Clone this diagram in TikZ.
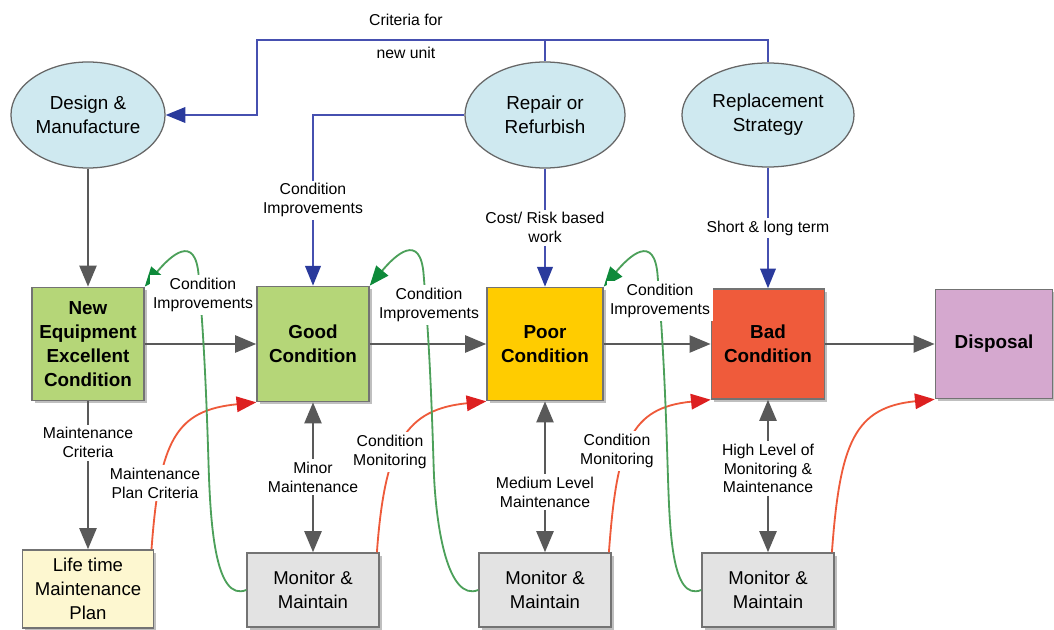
\documentclass[tikz,border=0pt]{standalone}
\usepackage{fontspec}
\setmainfont{Liberation Sans}
\usetikzlibrary{arrows.meta,shapes.geometric,shadows,calc}
\definecolor{stratfill}{HTML}{CFE9F0}
\definecolor{goodfill}{HTML}{B5D678}
\definecolor{poorfill}{HTML}{FFCC00}
\definecolor{badfill}{HTML}{EF5B3B}
\definecolor{dispfill}{HTML}{D5A8CF}
\definecolor{lifefill}{HTML}{FDF7D0}
\definecolor{monfill}{HTML}{E3E3E3}
\definecolor{linkblue}{HTML}{4650B0}
\definecolor{headblue}{HTML}{2A3A9C}
\definecolor{flowgray}{HTML}{595959}
\definecolor{monred}{HTML}{EE5A3A}
\definecolor{headred}{HTML}{DD2020}
\definecolor{impgreen}{HTML}{4CA05A}
\definecolor{headgreen}{HTML}{0E8A3A}
\begin{document}
\begin{tikzpicture}[x=0.025cm,y=-0.025cm,
  strat/.style={ellipse,draw=black!60,line width=0.9pt,fill=stratfill,align=center,
    minimum width=3.85cm,minimum height=2.65cm,inner sep=0pt,font=\fontsize{13.4}{17}\selectfont},
  cond/.style={rectangle,draw=black!55,line width=1pt,align=center,inner sep=1pt,
    minimum width=2.8cm,minimum height=2.8cm,font=\fontsize{13.4}{17}\selectfont\bfseries,
    drop shadow={shadow xshift=2pt,shadow yshift=-2pt,opacity=.5}},
  mbox/.style={cond,fill=monfill,minimum width=3.3cm,minimum height=1.85cm,font=\fontsize{13.2}{17}\selectfont},
  lbl/.style={fill=white,align=center,inner sep=2pt,font=\fontsize{11.2}{13.5}\selectfont},
  flow/.style={draw=flowgray,line width=2pt,-{Triangle[length=15pt,width=12pt]}},
  both/.style={flow,{Triangle[length=15pt,width=12pt]}-{Triangle[length=15pt,width=12pt]}},
  stratlink/.style={draw=linkblue,line width=1.5pt,-{Triangle[length=14pt,width=11pt,color=headblue]}},
  monlink/.style={draw=monred,line width=1.3pt,-{Triangle[length=14pt,width=11pt,color=headred]}},
  implink/.style={draw=impgreen,line width=1.3pt,-{Triangle[length=14pt,width=11pt,color=headgreen]}}]
\useasboundingbox (0,0) rectangle (1054,630);
% strategy ellipses
\node[strat] (design) at (88,115) {Design \&\\Manufacture};
\node[strat,minimum width=4cm] (repair) at (545,115) {Repair or\\Refurbish};
\node[strat,minimum width=4.3cm,minimum height=2.6cm] (replace) at (768,115) {Replacement\\Strategy};
% condition boxes
\node[cond,fill=goodfill,minimum height=2.83cm] (newe) at (88,344) {New\\Equipment\\Excellent\\Condition};
\node[cond,fill=goodfill,minimum height=2.88cm] (good) at (313,344) {Good\\Condition};
\node[cond,fill=poorfill,minimum width=2.9cm,minimum height=2.83cm] (poor) at (545,344) {Poor\\Condition};
\node[cond,fill=badfill,minimum width=2.83cm,minimum height=2.75cm] (bad) at (768,344) {Bad\\Condition};
\node[cond,fill=dispfill,minimum width=2.93cm,minimum height=2.73cm] (disp) at (994,344) {Disposal};
% bottom boxes
\node[mbox,fill=lifefill,minimum width=3.28cm,minimum height=1.95cm] (life) at (88,589) {Life time\\Maintenance\\Plan};
\node[mbox] (mon1) at (313,590) {Monitor \&\\Maintain};
\node[mbox] (mon2) at (545,590) {Monitor \&\\Maintain};
\node[mbox] (mon3) at (768,590) {Monitor \&\\Maintain};
% criteria for new unit
\coordinate (crit) at (257,40);
\draw[stratlink] (replace.north) |- (crit) |- (design.east);
\draw[stratlink,-] (repair.north) -- (repair.north |- crit);
\node[lbl] (critA) at (406,20) {Criteria for};
\node[lbl] (critB) at (406,53) {new unit};
% strategy to condition
\draw[stratlink] (repair.west) -| node[lbl,pos=0.75] {Condition\\Improvements} (good.north);
\draw[stratlink] (repair.south) -- node[lbl] {Cost/ Risk based\\work} (poor.north);
\draw[stratlink] (replace.south) -- node[lbl] {Short \& long term} (bad.north);
% degradation flow
\draw[flow] (design.south) -- (newe.north);
\foreach \a/\b in {newe/good,good/poor,poor/bad,bad/disp}
  \draw[flow] (\a) -- (\b);
\draw[flow] (newe.south) -- node[lbl,pos=0.28] {Maintenance\\Criteria} (life.north);
\draw[both] (good.south) -- node[lbl] {Minor\\Maintenance} (mon1.north);
\draw[both] (poor.south) -- node[lbl,pos=0.6] {Medium Level\\Maintenance} (mon2.north);
\draw[both] (bad.south) -- node[lbl,pos=0.45] {High Level of\\Monitoring \&\\Maintenance} (mon3.north);
% monitoring (red)
\foreach \m/\b in {life/good,mon1/poor,mon2/bad,mon3/disp}
  \draw[monlink] ([xshift=-2pt]\m.north east) .. controls +(8,-110) and +(-80,8) .. (\b.south west);
\node[lbl] (mpc) at (155,483) {Maintenance\\Plan Criteria};
\node[lbl] (cmA) at (390,452) {Condition\\Monitoring};
\node[lbl] (cmB) at (617,451) {Condition\\Monitoring};
% improvements (green)
\foreach \m/\b in {mon1/newe,mon2/good,mon3/poor}
  \draw[implink] (\m.west) .. controls +(-30,12) and +(2,60) .. ($(\b.north east)+(64,183)$)
    .. controls +(-3,-100) and +(4,50) .. ($(\b.north east)+(54,-10)$)
    .. controls +(-3,-45) and +(25,-30) .. (\b.north east);
\node[lbl] (ciA) at (203,295) {Condition\\Improvements};
\node[lbl] (ciB) at (429,305) {Condition\\Improvements};
\node[lbl] (ciC) at (660,301) {Condition\\Improvements};
\end{tikzpicture}
\end{document}
